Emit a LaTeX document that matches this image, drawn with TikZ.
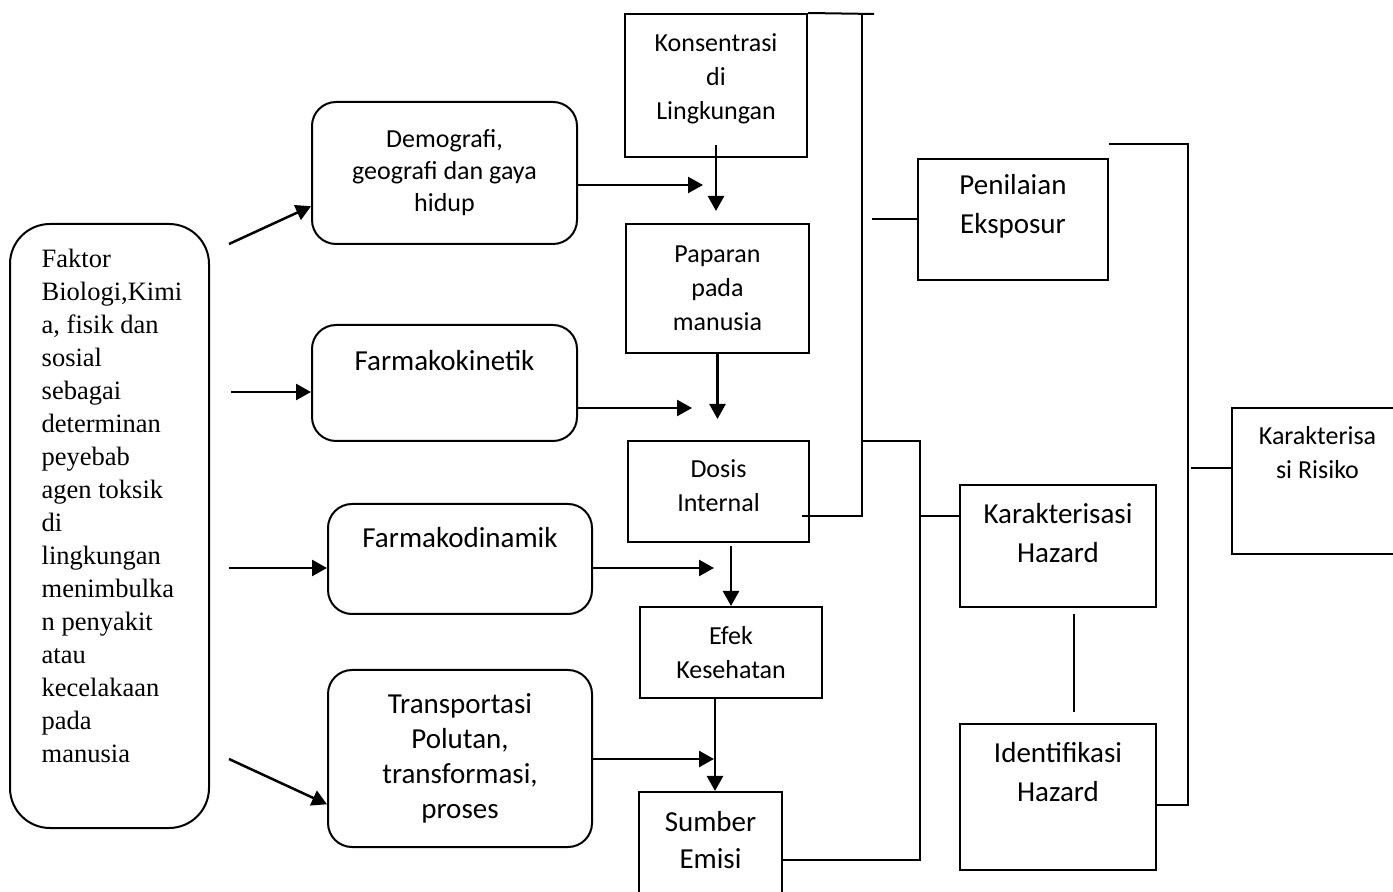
\documentclass[tikz,border=0pt]{standalone}
\usepackage{fontspec}
\setmainfont{Carlito}
\newfontfamily\timesfont{Liberation Serif}
\usetikzlibrary{arrows.meta}

\begin{document}
\begin{tikzpicture}[x=0.5pt,y=-0.5pt,
  box/.style={draw,line width=1pt,inner sep=0pt},
  rbox/.style={box,rounded corners=12pt},
  txtS/.style={font=\fontsize{13}{17}\selectfont,align=center},
  txtL/.style={font=\fontsize{14.5}{19.5}\selectfont,align=center},
  arr/.style={line width=1.25pt,-{Triangle[length=7.5pt,width=8pt]}},
  lnk/.style={line width=1pt}]
\useasboundingbox (0,0) rectangle (1393,892);

% left column
\node[box,rounded corners=20pt,minimum width=99.5pt,minimum height=302pt,
  label={[font=\timesfont\fontsize{13.25}{16.5}\selectfont,align=left,xshift=1.25pt,yshift=10.25pt]center:{Faktor\\Biologi,Kimi\\a, fisik dan\\sosial\\sebagai\\determinan\\peyebab\\agen toksik\\di\\lingkungan\\menimbulka\\n penyakit\\atau\\kecelakaan\\pada\\manusia}}] (fak) at (109.5,526) {};

% rounded boxes
\node[rbox,txtS,font=\fontsize{13}{16}\selectfont,minimum width=132.5pt,minimum height=71pt] (demo) at (444.5,173) {Demografi,\\geografi dan gaya\\hidup};
\node[rbox,minimum width=132.5pt,minimum height=58pt,label={[txtL,yshift=11pt]center:Farmakokinetik}] (fkin) at (444.5,383) {};
\node[rbox,minimum width=132pt,minimum height=55pt,label={[txtL,yshift=10.5pt]center:Farmakodinamik}] (fdin) at (460,559) {};
\node[rbox,txtL,font=\fontsize{14.5}{17.5}\selectfont,minimum width=132pt,minimum height=88.5pt] (trans) at (460,758.5) {Transportasi\\Polutan,\\transformasi,\\proses};

% middle column
\node[box,minimum width=91pt,minimum height=71.5pt,label={[txtS,yshift=3.5pt]center:{Konsentrasi\\di\\Lingkungan}}] (kons) at (716,85.5) {};
\node[box,txtS,minimum width=91.5pt,minimum height=64.5pt] (pap) at (717.5,288.5) {Paparan\\pada\\manusia};
\node[box,minimum width=90.5pt,minimum height=50.5pt,label={[txtS,yshift=2.75pt]center:{Dosis\\Internal}}] (dos) at (718.5,491.5) {};
\node[box,txtS,minimum width=91pt,minimum height=45.5pt] (efek) at (731,652.5) {Efek\\Kesehatan};
\node[box,minimum width=71.5pt,minimum height=54pt,label={[txtL,font=\fontsize{14.5}{18.5}\selectfont,yshift=2.75pt]center:{Sumber\\Emisi}}] (sumber) at (710.5,846) {};

% right side
\node[box,minimum width=95pt,minimum height=60.5pt,label={[txtL,yshift=6.75pt]center:{Penilaian\\Eksposur}}] (pen) at (1013,219.5) {};
\node[box,minimum width=98pt,minimum height=61pt,label={[txtL,yshift=6.25pt]center:{Karakterisasi\\Hazard}}] (kh) at (1058,546) {};
\node[box,minimum width=98pt,minimum height=73pt,label={[txtL,yshift=12.5pt]center:{Identifikasi\\Hazard}}] (idh) at (1058,797) {};
\node[box,minimum width=85.5pt,minimum height=73pt,label={[txtS,yshift=14pt]center:{Karakterisa\\si Risiko}}] (risk) at (1317.5,481) {};

% arrows from the factor box
\coordinate (s1) at (229,244);
\coordinate (s2) at (231,392);
\coordinate (s3) at (229,568);
\coordinate (s4) at (229,759);
\draw[arr] (s1) -- (demo.194);
\draw[arr] (s2) -- (s2 -| fkin.west);
\draw[arr] (s3) -- (s3 -| fdin.west);
\draw[arr] (s4) -- (trans.199);

% arrows into the middle column
\coordinate (e1) at (703,185);
\coordinate (e2) at (692,408);
\coordinate (e3) at (714,568);
\coordinate (e4) at (714,759);
\draw[arr] (e1 -| demo.east) -- (e1);
\draw[arr] (e2 -| fkin.east) -- (e2);
\draw[arr] (e3 -| fdin.east) -- (e3);
\draw[arr] (e4 -| trans.east) -- (e4);

\draw[arr] ([yshift=6.5pt]kons.south) -- ++(0,66);
\draw[arr] (pap.south) -- ++(0,65);
\draw[arr] (efek.north) ++(0,-60) -- (efek.north);
\draw[arr] ([xshift=2.25pt]sumber.north) ++(0,-94) -- ++(0,94);

% brackets
\coordinate (bus1) at (862,14);
\coordinate (bus2) at (920,441);
\coordinate (bus3) at (1188,144);
\draw[lnk] (kons.north east) -- ([xshift=6pt]bus1);
\draw[lnk] (bus1) |- ([xshift=-4pt,yshift=-12.25pt]dos.east);
\draw[lnk] ([xshift=-22.5pt]pen.west) -- (pen.west);
\draw[lnk] (bus2 -| bus1) -- (bus2) |- ([yshift=-7pt]sumber.east);
\draw[lnk] (kh.163 -| bus2) -- (kh.163);
\draw[lnk] ([xshift=8pt,yshift=-3pt]kh.south) -- ([xshift=8pt,yshift=5.5pt]idh.north);
\draw[lnk] (pen.east |- bus3) -- (bus3) |- ([yshift=-4pt]idh.east);
\draw[lnk] ([yshift=6.5pt]risk.west) -- ++(-40,0);
\end{tikzpicture}
\end{document}
